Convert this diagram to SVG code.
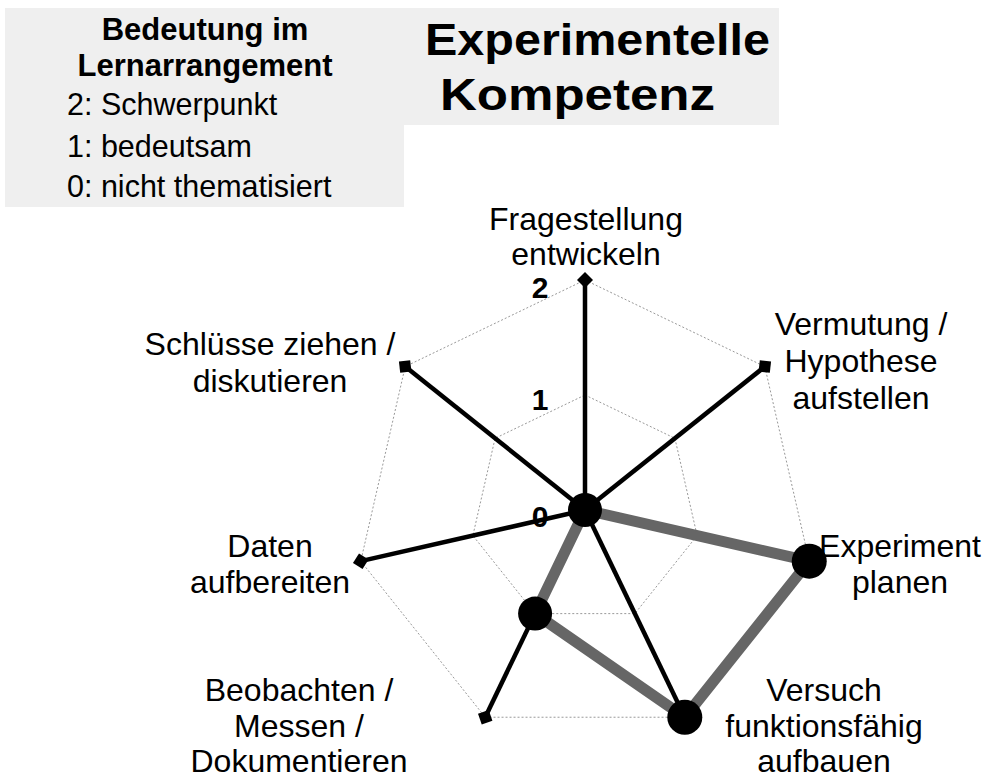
<svg xmlns="http://www.w3.org/2000/svg" width="985" height="780" viewBox="0 0 985 780">
<defs>
<style>
text{font-family:"Liberation Sans",Arial,sans-serif;fill:#000}
.lab{font-size:32px;text-anchor:middle}
.leg{font-size:30.5px}
.hdr{font-size:31px;font-weight:bold;text-anchor:middle}
.ttl{font-size:44px;font-weight:bold}
.num{font-size:30px;font-weight:bold;text-anchor:middle}
.grid{fill:none;stroke:#999;stroke-width:1;stroke-dasharray:2,2}
.axis{stroke:#000;stroke-width:4.5;marker-end:url(#dia)}
.series{fill:none;stroke:#666;stroke-width:11;stroke-linejoin:round}
.dot{fill:#000}
</style>
<marker id="dia" markerUnits="userSpaceOnUse" markerWidth="18" markerHeight="18" refX="9" refY="9" orient="auto" viewBox="0 0 18 18">
<path d="M1,9 L9,1 L17,9 L9,17 Z" fill="#000"/>
</marker>
</defs>
<path id="legendbox" d="M5,8 H779 V125 H404 V207 H5 Z" fill="#efefef"/>
<g id="legend">
<text class="hdr" x="205" y="40">Bedeutung im</text>
<text class="hdr" x="205" y="76">Lernarrangement</text>
<text class="leg" x="67" y="115">2: Schwerpunkt</text>
<text class="leg" x="67" y="157">1: bedeutsam</text>
<text class="leg" x="67" y="197">0: nicht thematisiert</text>
</g>
<g id="title">
<text class="ttl" x="425" y="55" textLength="345" lengthAdjust="spacingAndGlyphs">Experimentelle</text>
<text class="ttl" x="440" y="110" textLength="275" lengthAdjust="spacingAndGlyphs">Kompetenz</text>
</g>
<g id="grid">
<polygon class="grid" points="585,280 764.82,366.6 809.23,561.18 684.79,717.22 485.21,717.22 360.77,561.18 405.18,366.6"/>
<polygon class="grid" points="585,395 674.91,438.3 697.12,535.59 634.9,613.61 535.1,613.61 472.88,535.59 495.09,438.3"/>
</g>
<g id="connectors">
<line class="axis" x1="585" y1="510" x2="585" y2="280"/>
<line class="axis" x1="585" y1="510" x2="764.82" y2="366.6"/>
<line class="axis" x1="585" y1="510" x2="809.23" y2="561.18"/>
<line class="axis" x1="585" y1="510" x2="684.79" y2="717.22"/>
<line class="axis" x1="585" y1="510" x2="485.21" y2="717.22"/>
<line class="axis" x1="585" y1="510" x2="360.77" y2="561.18"/>
<line class="axis" x1="585" y1="510" x2="405.18" y2="366.6"/>
<path class="series" d="M585,510 L809.23,561.18 L684.79,717.22 L535.1,613.61 Z"/>
</g>
<g id="scale">
<text class="num" x="540" y="298">2</text>
<text class="num" x="540" y="410">1</text>
<text class="num" x="540" y="527">0</text>
</g>
<g id="points">
<circle class="dot" cx="585" cy="510" r="17"/>
<circle class="dot" cx="809.23" cy="561.18" r="17.5"/>
<circle class="dot" cx="684.79" cy="717.22" r="17.5"/>
<circle class="dot" cx="535.1" cy="613.61" r="17"/>
</g>
<g id="n-fragestellung">
<text class="lab" x="586" y="230">Fragestellung</text>
<text class="lab" x="586" y="265">entwickeln</text>
</g>
<g id="n-vermutung">
<text class="lab" x="861" y="335">Vermutung /</text>
<text class="lab" x="861" y="372">Hypothese</text>
<text class="lab" x="861" y="409">aufstellen</text>
</g>
<g id="n-experiment">
<text class="lab" x="900" y="557">Experiment</text>
<text class="lab" x="900" y="593">planen</text>
</g>
<g id="n-versuch">
<text class="lab" x="824" y="701">Versuch</text>
<text class="lab" x="824" y="737">funktionsfähig</text>
<text class="lab" x="824" y="772">aufbauen</text>
</g>
<g id="n-beobachten">
<text class="lab" x="299" y="701">Beobachten /</text>
<text class="lab" x="299" y="737">Messen /</text>
<text class="lab" x="299" y="772">Dokumentieren</text>
</g>
<g id="n-daten">
<text class="lab" x="270" y="557">Daten</text>
<text class="lab" x="270" y="593">aufbereiten</text>
</g>
<g id="n-schluesse">
<text class="lab" x="270" y="355">Schlüsse ziehen /</text>
<text class="lab" x="270" y="392">diskutieren</text>
</g>
</svg>
